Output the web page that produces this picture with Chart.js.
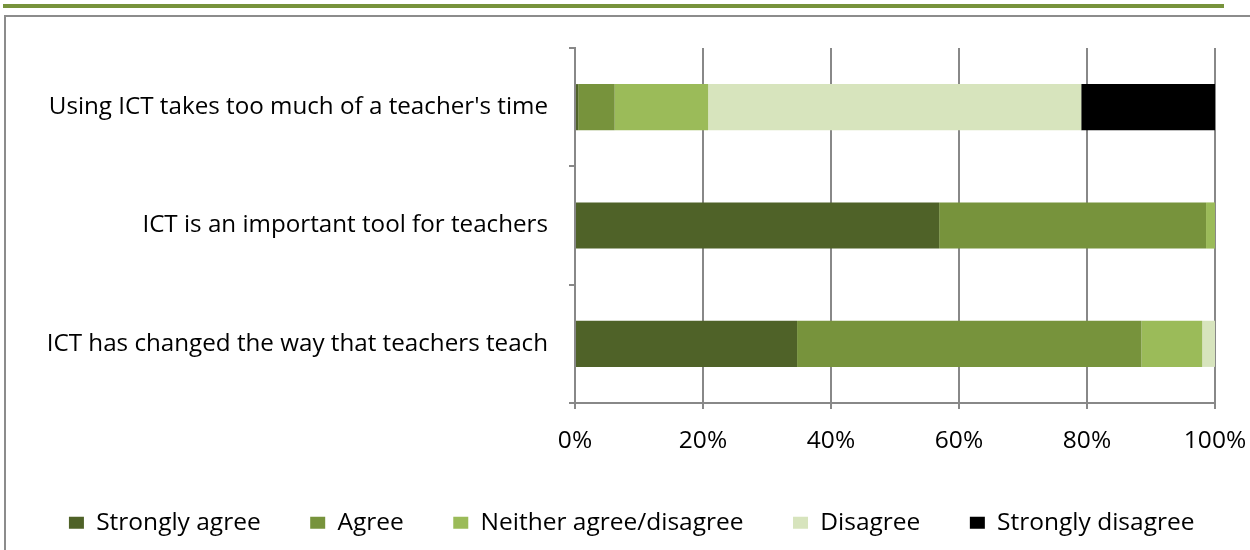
<!DOCTYPE html>
<html>
<head>
<meta charset="utf-8">
<script src="https://cdn.jsdelivr.net/npm/chart.js@4.4.1/dist/chart.umd.min.js"></script>
<style>
  html, body { margin: 0; padding: 0; background: #ffffff; }
  body { width: 1250px; height: 550px; position: relative; overflow: hidden; }
  #topbar { position: absolute; left: 3px; top: 4px; width: 1221px; height: 4px; background: #77933C; }
  #frame { position: absolute; left: 4px; top: 15px; width: 1260px; height: 560px; border-left: 2px solid #8c8c8c; border-top: 2px solid #8c8c8c; }
  #wrap { position: absolute; left: 0; top: 0; width: 1250px; height: 550px; }
</style>
</head>
<body>
<div id="topbar"></div>
<div id="frame"></div>
<div id="wrap"><canvas id="c" width="1250" height="550"></canvas></div>
<script>
const categories = [
  "Using ICT takes too much of a teacher's time",
  "ICT is an important tool for teachers",
  "ICT has changed the way that teachers teach"
];
const seriesNames = ["Strongly agree", "Agree", "Neither agree/disagree", "Disagree", "Strongly disagree"];
const stronglyAgree = [0.5, 56.9, 34.7];
const agree = [5.7, 41.7, 53.8];
const neither = [14.6, 1.4, 9.5];
const disagree = [58.3, 0.0, 2.0];
const stronglyDisagree = [20.9, 0.0, 0.0];
const xTicks = [0, 20, 40, 60, 80, 100];
const seriesColors = ["#4F6228", "#77933C", "#9BBB59", "#D7E4BD", "#000000"];

const seriesValues = [stronglyAgree, agree, neither, disagree, stronglyDisagree];
const FONT = "'Open Sans'";
const FS = 24.5;
const PAD_LEFT = 13.4;

// keep the legend on a single row (the reference spreads its entries wider than Chart.js' wrap check allows)
const LegendClass = Chart.registry.getPlugin('legend')._element;
const origFit = LegendClass.prototype.fit;
LegendClass.prototype.fit = function () {
  const mw = this.maxWidth;
  this.maxWidth = 3000;
  origFit.call(this);
  this.maxWidth = mw;
  this.width = Math.min(this.width, mw);
};

const chart = new Chart(document.getElementById('c'), {
  type: 'bar',
  data: {
    labels: categories,
    datasets: seriesNames.map((n, i) => ({
      label: n,
      data: seriesValues[i],
      backgroundColor: seriesColors[i],
      borderWidth: 0,
      barPercentage: 0.39,
      categoryPercentage: 1.0
    }))
  },
  options: {
    indexAxis: 'y',
    responsive: false,
    animation: false,
    maintainAspectRatio: false,
    layout: { padding: { top: 48, right: 0, left: PAD_LEFT, bottom: 5 } },
    plugins: {
      tooltip: { enabled: false },
      legend: {
        position: 'bottom',
        labels: {
          boxWidth: 15,
          boxHeight: 12,
          padding: 49.5,
          color: '#000000',
          font: { family: FONT, size: FS }
        }
      }
    },
    scales: {
      x: {
        stacked: true,
        min: 0,
        max: 100,
        afterBuildTicks: (s) => { s.ticks = xTicks.map(v => ({ value: v })); },
        afterFit: (s) => { s.height = 58; s.paddingLeft = 0; s.paddingRight = 35; },
        ticks: {
          callback: (v) => v + '%',
          color: '#000000',
          padding: 17,
          font: { family: FONT, size: FS }
        },
        grid: { color: '#888888', lineWidth: 2, tickLength: 6, drawTicks: true },
        border: { display: true, color: '#888888', width: 2 }
      },
      y: {
        stacked: true,
        afterFit: (s) => { s.width = 575 - PAD_LEFT; },
        ticks: {
          color: '#000000',
          padding: 21,
          font: { family: FONT, size: 24.2 }
        },
        grid: { drawOnChartArea: false, color: '#888888', lineWidth: 2, tickLength: 6, offset: true },
        border: { display: true, color: '#888888', width: 2 }
      }
    }
  }
});
</script>
</body>
</html>
